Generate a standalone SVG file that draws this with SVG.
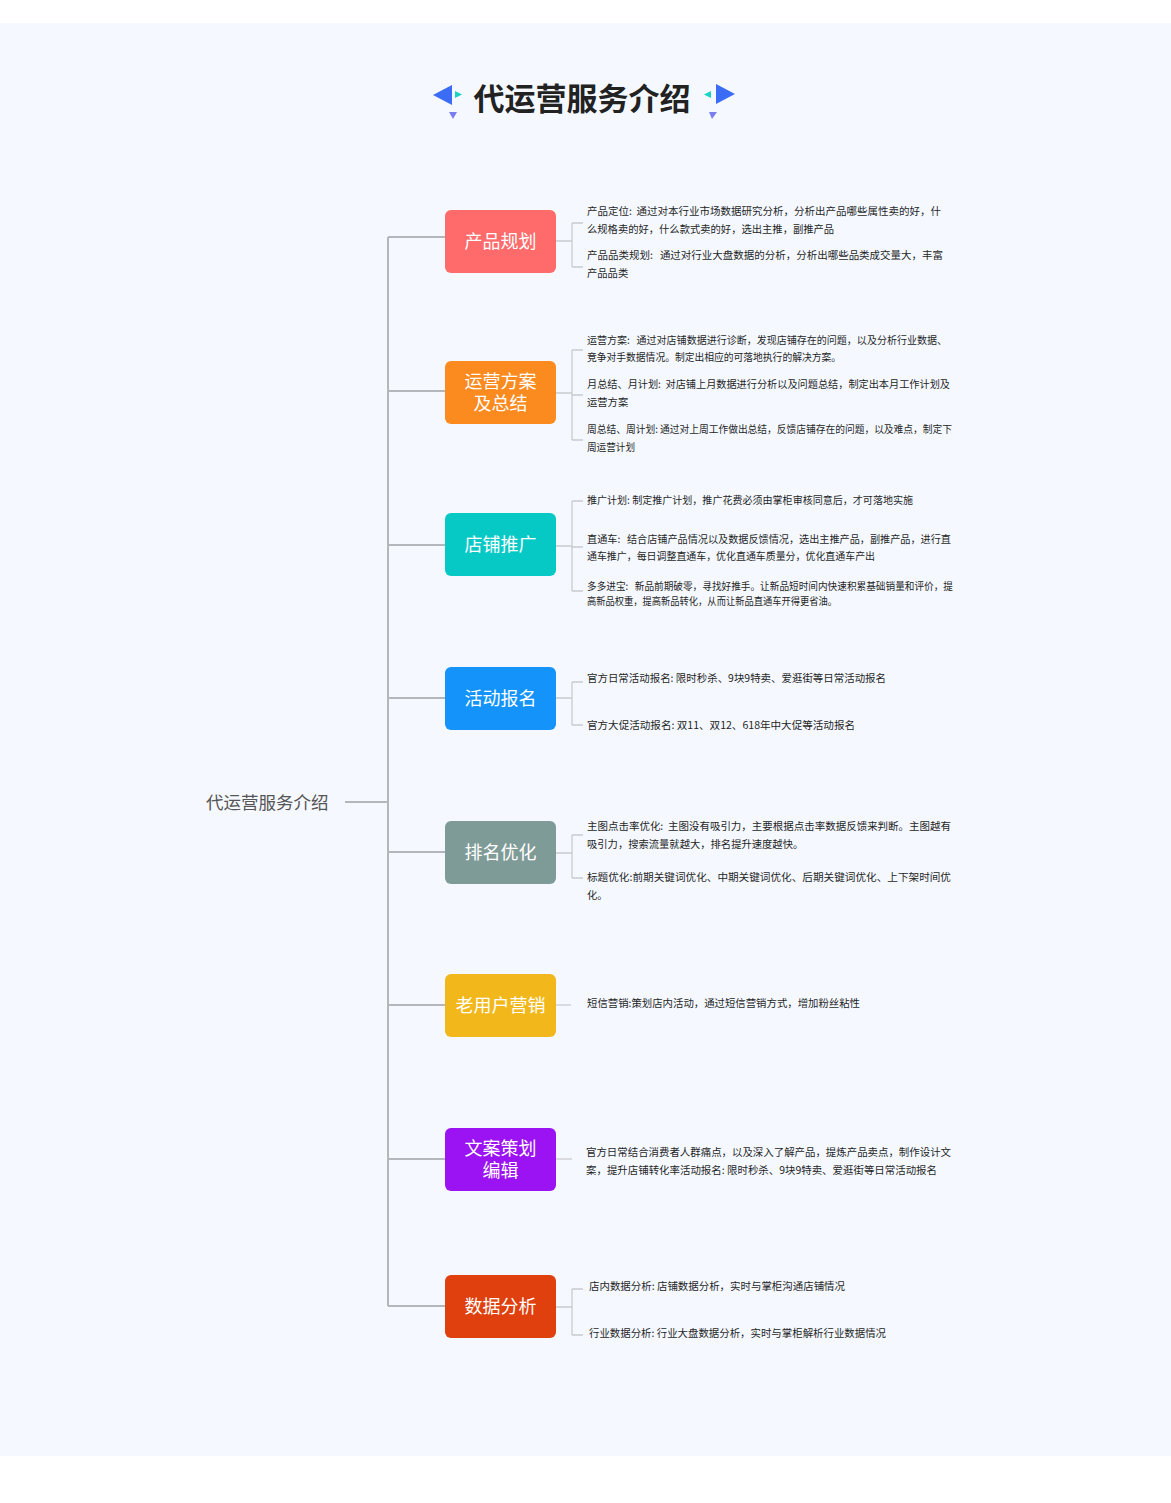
<svg xmlns="http://www.w3.org/2000/svg" width="1171" height="1503" viewBox="0 0 1171 1503">
<style>
.bg{fill:#f5f9ff}
.trunk{stroke:#b4b7ba;stroke-width:2;fill:none}
.sub{stroke:#c9cbcd;stroke-width:1.3;fill:none}
.node{stroke:none}
.nt{font-family:"Noto Sans CJK SC","Noto Sans",sans-serif;font-size:18px;fill:#ffffff;text-anchor:middle}
.dt{font-family:"Noto Sans CJK SC","Noto Sans",sans-serif;font-size:10.3px;fill:#1f1f1f;white-space:pre}
.title{font-family:"Noto Sans CJK SC","Noto Sans",sans-serif;font-size:31px;font-weight:bold;fill:#222222;text-anchor:middle}
.root{font-family:"Noto Sans CJK SC","Noto Sans",sans-serif;font-size:17.5px;fill:#555555}
</style>
<rect x="0" y="0" width="1171" height="1503" fill="#ffffff"/>
<rect class="bg" x="0" y="23" width="1171" height="1433"/>

<g id="title">
<polygon points="433,95 452,85 452,105" fill="#3a6cf5"/>
<polygon points="462,94.5 455,91 455,98" fill="#19d3c5"/>
<polygon points="449,112 457,112 453,119" fill="#7b7ef0"/>
<polygon points="735,94 716,84 716,104" fill="#3a6cf5"/>
<polygon points="704,94.5 711,91 711,98" fill="#19d3c5"/>
<polygon points="709,112 717,112 712,119" fill="#7b7ef0"/>
<text class="title" x="582" y="110">代运营服务介绍</text>
</g>

<g id="connectors">
<path class="trunk" d="M345,802 H388 M388,237 V1306 M388,237 H445 M388,391 H445 M388,545 H445 M388,698 H445 M388,852 H445 M388,1005 H445 M388,1159 H445 M388,1306 H445"/>
<path class="sub" d="M556,241 H572 M572,223 V267 M572,223 H583 M572,267 H583"/>
<path class="sub" d="M556,393 H572 M572,350 V440 M572,350 H583 M572,395 H583 M572,440 H583"/>
<path class="sub" d="M556,546 H572 M572,501 V591 M572,501 H583 M572,547 H583 M572,591 H583"/>
<path class="sub" d="M556,698 H572 M572,682 V725 M572,682 H583 M572,725 H583"/>
<path class="sub" d="M556,853 H572 M572,835 V878 M572,835 H583 M572,878 H583"/>
<path class="sub" d="M556,1005 H571"/>
<path class="sub" d="M556,1159 H572"/>
<path class="sub" d="M556,1307 H572 M572,1289 V1335 M572,1289 H583 M572,1335 H583"/>
</g>

<g id="root"><text class="root" x="206" y="809">代运营服务介绍</text></g>

<g id="node1">
<rect class="node" x="445" y="210" width="111" height="63" rx="6" fill="#ff6a6a"/>
<text class="nt" x="500.5" y="248">产品规划</text>
<text class="dt" x="587" y="215" textLength="354" lengthAdjust="spacingAndGlyphs">产品定位:  通过对本行业市场数据研究分析，分析出产品哪些属性卖的好，什</text>
<text class="dt" x="587" y="233">么规格卖的好，什么款式卖的好，选出主推，副推产品</text>
<text class="dt" x="587" y="259" textLength="356" lengthAdjust="spacingAndGlyphs">产品品类规划:   通过对行业大盘数据的分析，分析出哪些品类成交量大，丰富</text>
<text class="dt" x="587" y="277">产品品类</text>
</g>

<g id="node2">
<rect class="node" x="445" y="361" width="111" height="63" rx="6" fill="#fb8a1f"/>
<text class="nt" x="500.5" y="388">运营方案<tspan x="500.5" y="410">及总结</tspan></text>
<text class="dt" x="587" y="344" textLength="360" lengthAdjust="spacingAndGlyphs">运营方案:   通过对店铺数据进行诊断，发现店铺存在的问题，以及分析行业数据、</text>
<text class="dt" x="587" y="361" textLength="254" lengthAdjust="spacingAndGlyphs">竞争对手数据情况。制定出相应的可落地执行的解决方案。</text>
<text class="dt" x="587" y="388" textLength="363" lengthAdjust="spacingAndGlyphs">月总结、月计划:  对店铺上月数据进行分析以及问题总结，制定出本月工作计划及</text>
<text class="dt" x="587" y="406">运营方案</text>
<text class="dt" x="587" y="433" textLength="365" lengthAdjust="spacingAndGlyphs">周总结、周计划: 通过对上周工作做出总结，反馈店铺存在的问题，以及难点，制定下</text>
<text class="dt" x="587" y="451" textLength="48" lengthAdjust="spacingAndGlyphs">周运营计划</text>
</g>

<g id="node3">
<rect class="node" x="445" y="513" width="111" height="63" rx="6" fill="#06c9c6"/>
<text class="nt" x="500.5" y="551">店铺推广</text>
<text class="dt" x="587" y="504" textLength="326" lengthAdjust="spacingAndGlyphs">推广计划: 制定推广计划，推广花费必须由掌柜审核同意后，才可落地实施</text>
<text class="dt" x="587" y="543" textLength="364" lengthAdjust="spacingAndGlyphs">直通车:   结合店铺产品情况以及数据反馈情况，选出主推产品，副推产品，进行直</text>
<text class="dt" x="587" y="560" textLength="288" lengthAdjust="spacingAndGlyphs">通车推广，每日调整直通车，优化直通车质量分，优化直通车产出</text>
<text class="dt" x="587" y="590" textLength="366" lengthAdjust="spacingAndGlyphs">多多进宝:   新品前期破零，寻找好推手。让新品短时间内快速积累基础销量和评价，提</text>
<text class="dt" x="587" y="605" textLength="250" lengthAdjust="spacingAndGlyphs">高新品权重，提高新品转化，从而让新品直通车开得更省油。</text>
</g>

<g id="node4">
<rect class="node" x="445" y="667" width="111" height="63" rx="6" fill="#1493fa"/>
<text class="nt" x="500.5" y="705">活动报名</text>
<text class="dt" x="587" y="682" textLength="299" lengthAdjust="spacingAndGlyphs">官方日常活动报名: 限时秒杀、9块9特卖、爱逛街等日常活动报名</text>
<text class="dt" x="587" y="729" textLength="268" lengthAdjust="spacingAndGlyphs">官方大促活动报名: 双11、双12、618年中大促等活动报名</text>
</g>

<g id="node5">
<rect class="node" x="445" y="821" width="111" height="63" rx="6" fill="#7f9b97"/>
<text class="nt" x="500.5" y="859">排名优化</text>
<text class="dt" x="587" y="830" textLength="364" lengthAdjust="spacingAndGlyphs">主图点击率优化:  主图没有吸引力，主要根据点击率数据反馈来判断。主图越有</text>
<text class="dt" x="587" y="848">吸引力，搜索流量就越大，排名提升速度越快。</text>
<text class="dt" x="587" y="881" textLength="364" lengthAdjust="spacingAndGlyphs">标题优化:前期关键词优化、中期关键词优化、后期关键词优化、上下架时间优</text>
<text class="dt" x="587" y="899">化。</text>
</g>

<g id="node6">
<rect class="node" x="445" y="974" width="111" height="63" rx="6" fill="#f2b81b"/>
<text class="nt" x="500.5" y="1012">老用户营销</text>
<text class="dt" x="587" y="1007" textLength="273" lengthAdjust="spacingAndGlyphs">短信营销:策划店内活动，通过短信营销方式，增加粉丝粘性</text>
</g>

<g id="node7">
<rect class="node" x="445" y="1128" width="111" height="63" rx="6" fill="#9b13f2"/>
<text class="nt" x="500.5" y="1155">文案策划<tspan x="500.5" y="1177">编辑</tspan></text>
<text class="dt" x="586" y="1156" textLength="365" lengthAdjust="spacingAndGlyphs">官方日常结合消费者人群痛点，以及深入了解产品，提炼产品卖点，制作设计文</text>
<text class="dt" x="586" y="1174" textLength="351" lengthAdjust="spacingAndGlyphs">案，提升店铺转化率活动报名: 限时秒杀、9块9特卖、爱逛街等日常活动报名</text>
</g>

<g id="node8">
<rect class="node" x="445" y="1275" width="111" height="63" rx="6" fill="#df400e"/>
<text class="nt" x="500.5" y="1313">数据分析</text>
<text class="dt" x="589" y="1290" textLength="256" lengthAdjust="spacingAndGlyphs">店内数据分析: 店铺数据分析，实时与掌柜沟通店铺情况</text>
<text class="dt" x="589" y="1337" textLength="297" lengthAdjust="spacingAndGlyphs">行业数据分析: 行业大盘数据分析，实时与掌柜解析行业数据情况</text>
</g>
</svg>
